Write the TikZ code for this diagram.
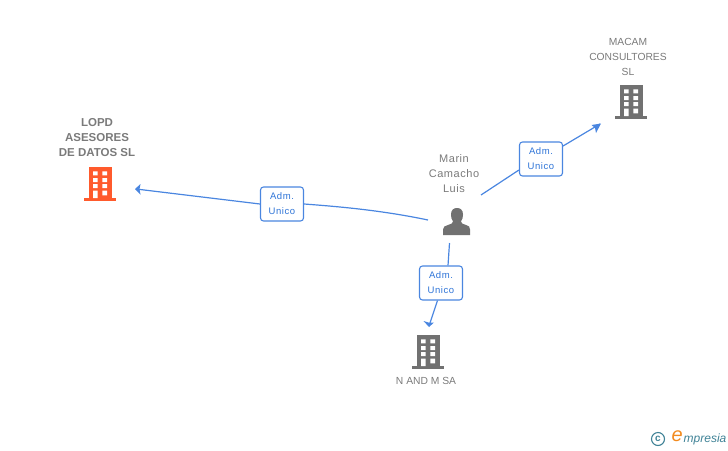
\documentclass[tikz,border=0pt]{standalone}
\usepackage{fontspec}
\setmainfont{Liberation Sans}
\definecolor{linkblue}{HTML}{4A86E0}
\definecolor{labelblue}{HTML}{2F75D8}
\definecolor{greytext}{HTML}{7A7A7A}
\definecolor{icongrey}{HTML}{717171}
\definecolor{iconorange}{HTML}{FF5A2C}
\definecolor{logoteal}{HTML}{3F8296}
\definecolor{logoorange}{HTML}{F28A1E}
\newcommand{\admtext}{\raisebox{-1pt}{Adm.}\\\raisebox{-1pt}{Unico}}
\tikzset{
  x=1pt,y=-1pt,
  link/.style={draw=linkblue,line width=1.2pt},
  arrowend/.style={fill=linkblue,draw=none},
  admbox/.style={draw=linkblue,line width=1.1pt,rounded corners=3pt,fill=white,
    minimum width=43pt,minimum height=34pt,inner sep=0pt,align=center,
    text=labelblue,font=\fontsize{9.5}{15}\selectfont\addfontfeatures{LetterSpace=6}},
  caption/.style={text=greytext,align=center,inner sep=0pt,font=\fontsize{10.3}{15}\selectfont},
  personcaption/.style={caption,font=\fontsize{11}{15}\selectfont\addfontfeatures{LetterSpace=5}},
  boldcaption/.style={caption,font=\fontsize{11.5}{15}\selectfont\bfseries},
  building/.pic={
    \fill[pic actions] (-11.5,-17) rectangle (11.5,14);
    \fill[pic actions] (-16,14) rectangle (16,17);
    \fill[white] (-7,-12.7) rectangle (-2.3,-8.7) (2.3,-12.7) rectangle (7,-8.7)
      (-7,-6) rectangle (-2.3,-2) (2.3,-6) rectangle (7,-2)
      (-7,0) rectangle (-2.3,4) (2.3,0) rectangle (7,4)
      (-7,6.7) rectangle (-2.3,14) (2.3,6.7) rectangle (7,11.3);
  }
}
\begin{document}
\begin{tikzpicture}
\useasboundingbox (0,0) rectangle (728,450);
% icons
\pic[fill=iconorange] at (100,184) {building};
\pic[fill=icongrey] at (631,102) {building};
\pic[fill=icongrey] at (428,352) {building};
\fill[icongrey] (443,235) -- (443,229.5) .. controls (443,226.5) and (445,226) .. (448,225)
  .. controls (451,224) and (453,223.5) .. (453,221.5)
  .. controls (451.5,219.5) and (451,217) .. (451,214.5)
  .. controls (451,210) and (453.5,208) .. (457,208)
  .. controls (460.5,208) and (463,210) .. (463,214.5)
  .. controls (463,217) and (462.5,219.5) .. (461,221.5)
  .. controls (461,223.5) and (463,224) .. (466,225)
  .. controls (469,226) and (470,226.5) .. (470,229.5) -- (470,235) -- cycle;
% anchors
\coordinate (lopd) at (136,189);
\coordinate (macam) at (600,124);
\coordinate (nandm) at (429,326);
\coordinate (pwest) at (428,220);
\coordinate (pne) at (481,195);
\coordinate (psouth) at (449.5,243);
% labels
\node[admbox] (a1) at (282,204) {\admtext};
\node[admbox] (a2) at (541,159) {\admtext};
\node[admbox] (a3) at (441,283) {\admtext};
% connectors
\draw[link] (pwest) .. controls (385,211) and (345,207) .. (a1.east);
\draw[link] (a1.west) -- (lopd);
\draw[link] (pne) -- (a2.south west |- 0,170);
\draw[link] (a2.north east |- 0,146) -- (macam);
\draw[link] (psouth) -- (a3.north -| 448,0);
\draw[link] (a3.south -| 437.5,0) -- (nandm);
\fill[arrowend] (lopd) ++(-1,0) -- ++(5.5,-5) -- ++(-1,5) -- ++(1,5.5) -- cycle;
\fill[arrowend] (macam) ++(1,-0.5) -- ++(-9.5,1.5) -- ++(3.5,3) -- ++(1,5) -- cycle;
\fill[arrowend] (nandm) ++(0,1) -- ++(-5.5,-6) -- ++(5,1.5) -- ++(5.5,0) -- cycle;
% texts
\node[boldcaption] (t1) at (97,138) {LOPD\\ASESORES\\DE DATOS SL};
\node[caption] (t2) at (628,56.5) {MACAM\\CONSULTORES\\SL};
\node[personcaption] (t3) at (454,174) {Marin\\Camacho\\Luis};
\node[caption] (t4) at (426,381) {N AND M SA};
% logo
\node[draw=logoteal,line width=1.1pt,circle,minimum size=13pt,inner sep=0pt,text=logoteal,font=\fontsize{10}{10}\selectfont\bfseries] (copy) at (658,439) {c};
\node[text=logoorange,inner sep=0pt,anchor=east,font=\itshape\fontsize{20}{20}\selectfont] (elogo) at (683,436.5) {e};
\node[text=logoteal,inner sep=0pt,anchor=west,font=\itshape\fontsize{12}{14}\selectfont] (mlogo) at (683.5,439.5) {mpresia};
\end{tikzpicture}
\end{document}
